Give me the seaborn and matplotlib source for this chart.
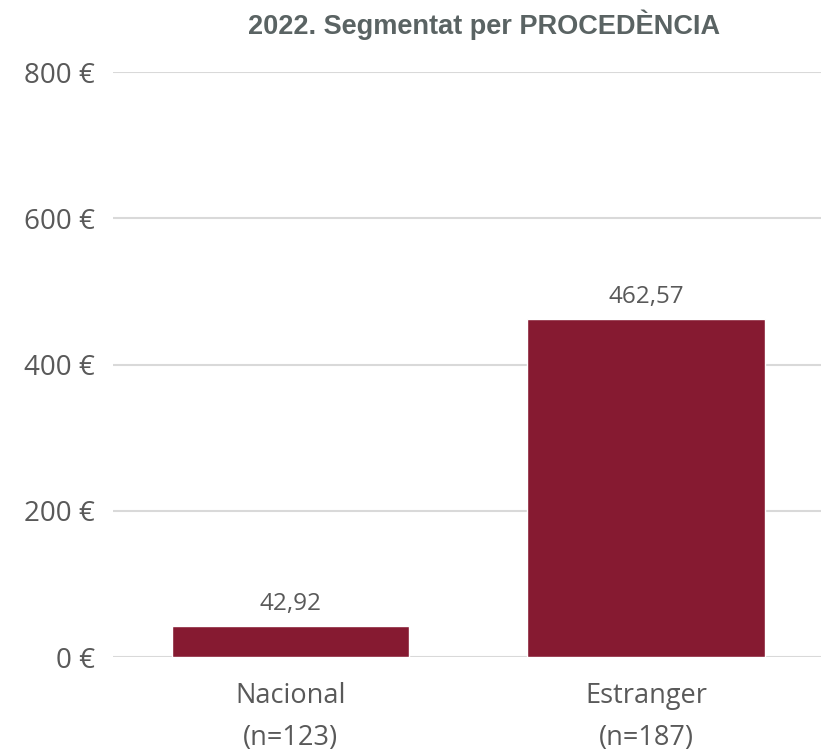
import pandas as pd
import seaborn as sns
import matplotlib.pyplot as plt

# ---------------- Data ---------------- #
categories = ["Nacional\n(n=123)", "Estranger\n(n=187)"]
values = [42.92, 462.57]
value_labels = ["42,92", "462,57"]
y_ticks = [0, 200, 400, 600, 800]
y_tick_labels = ["0 €", "200 €", "400 €", "600 €", "800 €"]
title = "2022. Segmentat per PROCEDÈNCIA"

df = pd.DataFrame({"Procedencia": categories, "Valor": values})

# ---------------- Plot ---------------- #
sns.set_theme(style="white")
plt.rcParams['font.family'] = ['Open Sans', 'DejaVu Sans']

bar_color = "#861A31"
text_color = "#595959"

fig = plt.figure(figsize=(8.21, 7.55), dpi=100)
ax = fig.add_axes([0.1373, 0.1298, 0.866, 0.7748])

sns.barplot(data=df, x="Procedencia", y="Valor", color=bar_color,
            width=0.667, saturation=1, ax=ax, zorder=3)

ax.set_ylim(0, 800)
ax.set_xlim(-0.5, 1.5)
ax.set_yticks(y_ticks)
ax.set_yticklabels(y_tick_labels, fontsize=20, color=text_color)
ax.tick_params(axis="x", labelsize=19.5, labelcolor=text_color, pad=18, length=0)
ax.tick_params(axis="y", length=0, pad=13)
for lbl in ax.get_xticklabels():
    lbl.set_linespacing(1.65)

ax.yaxis.grid(True, color="#d9d9d9", linewidth=1.5, zorder=0)
ax.xaxis.grid(False)
for s in ax.spines.values():
    s.set_visible(False)
ax.set_xlabel("")
ax.set_ylabel("")

# value labels above the bars
for i, (v, t) in enumerate(zip(values, value_labels)):
    ax.annotate(t, (i, v), xytext=(0, 7), textcoords="offset points",
                ha="center", va="bottom", fontsize=17.5, color=text_color)

fig.text(484 / 821, 1 - 25 / 755, title, ha="center", va="center",
         fontsize=19.5, fontweight="bold", color="#5A6363",
         family=["Liberation Sans", "DejaVu Sans"])

fig.savefig("out.png", dpi=100)
